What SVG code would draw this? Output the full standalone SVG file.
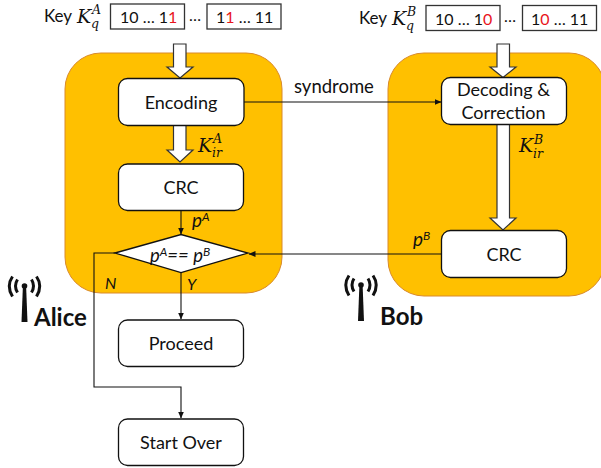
<svg xmlns="http://www.w3.org/2000/svg" width="601" height="468" viewBox="0 0 601 468">
<style>
text{font-family:Lato,"Open Sans","Liberation Sans",sans-serif;fill:#111}
.l{font-size:18px;text-anchor:middle}
.k{font-size:17px}
.n{font-size:16px}
.m{font-family:"DejaVu Serif","Liberation Serif",serif;font-style:italic}
.i{font-style:italic}
.r{fill:#e8141c}
.panel{fill:#ffc000;stroke:#d98a2b;stroke-width:1}
.box{fill:#fff;stroke:#111;stroke-width:1.3}
.key{fill:#fff;stroke:#333;stroke-width:1.3}
.fat{fill:#fff;stroke:#333;stroke-width:1.2}
.ln{fill:none;stroke:#111;stroke-width:1.1}
.b{font-size:24px;font-weight:700}
</style>
<defs>
<marker id="a" markerWidth="8" markerHeight="8" refX="6.500" refY="3" orient="auto" markerUnits="userSpaceOnUse"><path d="M0 0L7 3L0 6z" fill="#111"/></marker>
<g id="ant"><path d="M-1.600 0L-3 36H3L1.600 0z" fill="#111"/><circle cx="0" cy="0" r="2.800" fill="#111"/><path d="M-7 -6.500Q-11 0-7 6.500M7 -6.500Q11 0 7 6.500M-12 -9.500Q-18.500 0-12 10.500M12 -9.500Q18.500 0 12 10.500" fill="none" stroke="#111" stroke-width="3"/></g>
</defs>
<g id="alice-panel"><rect class="panel" x="65" y="53" width="217" height="240" rx="36"/></g>
<g id="bob-panel"><rect class="panel" x="388" y="53" width="217" height="243" rx="36"/></g>
<g id="connectors">
<path class="fat" d="M173.500 44H186V67H193L180 78L167 67H173.500z"/>
<path class="fat" d="M173.500 125H186V150H193L180 162L167 150H173.500z"/>
<path class="fat" d="M497 44H509.500V67H516L503 77.500L490 67H497z"/>
<path class="fat" d="M497 124H509.500V218H516L503 230L490 218H497z"/>
<path class="ln" d="M244 102H441" marker-end="url(#a)"/>
<path class="ln" d="M181 210V234" marker-end="url(#a)"/>
<path class="ln" d="M441 254H249" marker-end="url(#a)"/>
<path class="ln" d="M181 273V319" marker-end="url(#a)"/>
<path class="ln" d="M115 253H94V387H181V418" marker-end="url(#a)"/>
</g>
<g id="key-a">
<text class="k" x="44" y="22">Key</text>
<text class="m" x="77" y="23" font-size="19">K</text><text class="m" x="92" y="14" font-size="12.500">A</text><text class="m" x="91" y="28" font-size="12.500">q</text>
<rect class="key" x="110.500" y="4" width="74" height="25"/>
<text class="n" x="120" y="23">10 … 1<tspan class="r">1</tspan></text>
<text class="n" x="189" y="21">…</text>
<rect class="key" x="207" y="4" width="74" height="25"/>
<text class="n" x="216" y="23">1<tspan class="r">1</tspan> … 11</text>
</g>
<g id="key-b">
<text class="k" x="359" y="24">Key</text>
<text class="m" x="392" y="25" font-size="19">K</text><text class="m" x="407" y="16" font-size="12.500">B</text><text class="m" x="406" y="30" font-size="12.500">q</text>
<rect class="key" x="426" y="5.500" width="74" height="25"/>
<text class="n" x="435" y="24.500">10 … 1<tspan class="r">0</tspan></text>
<text class="n" x="504" y="22">…</text>
<rect class="key" x="522.500" y="5.500" width="74" height="25"/>
<text class="n" x="531" y="24.500">1<tspan class="r">0</tspan> … 11</text>
</g>
<g id="encoding"><rect class="box" x="118.500" y="78.500" width="125.500" height="47" rx="9"/><text class="l" x="181" y="109">Encoding</text></g>
<g id="decoding"><rect class="box" x="441.500" y="77.500" width="125" height="47" rx="9"/><text class="l" x="503.500" y="96">Decoding &amp;</text><text class="l" x="503.500" y="119">Correction</text></g>
<g id="crc-a"><rect class="box" x="118.500" y="164" width="125" height="46.500" rx="9"/><text class="l" x="181" y="194">CRC</text></g>
<g id="crc-b"><rect class="box" x="441.500" y="230.500" width="125" height="47" rx="9"/><text class="l" x="504" y="261">CRC</text></g>
<g id="compare"><path class="box" d="M115 253L181 234.500L248 253L181 272.500z"/>
<text x="150" y="262" font-size="18.500" class="i">p<tspan font-size="12" dy="-6.500">A</tspan><tspan dy="6.500">== p</tspan><tspan font-size="12" dy="-6.500">B</tspan></text></g>
<g id="proceed"><rect class="box" x="118.500" y="320" width="125" height="46.500" rx="9"/><text class="l" x="181" y="350">Proceed</text></g>
<g id="start-over"><rect class="box" x="118.500" y="419" width="125" height="46.500" rx="9"/><text class="l" x="181" y="449">Start Over</text></g>
<g id="labels">
<text x="294" y="93" font-size="18.500">syndrome</text>
<text class="m" x="198" y="152" font-size="19">K</text><text class="m" x="213" y="143" font-size="12.500">A</text><text class="m" x="212" y="157" font-size="12.500">ir</text>
<text class="m" x="519" y="152" font-size="19">K</text><text class="m" x="534" y="144" font-size="12.500">B</text><text class="m" x="533" y="158" font-size="12.500">ir</text>
<text x="192" y="227" font-size="19" class="i">p<tspan font-size="12" dy="-6.500">A</tspan></text>
<text x="413" y="246" font-size="19" class="i">p<tspan font-size="12" dy="-6.500">B</tspan></text>
<text x="105" y="289" font-size="16" class="i">N</text>
<text x="187" y="290" font-size="16" class="i">Y</text>
</g>
<g id="alice"><use href="#ant" x="24.500" y="286"/><text class="b" x="34" y="326">Alice</text></g>
<g id="bob"><use href="#ant" x="361" y="285"/><text class="b" x="380" y="325">Bob</text></g>
</svg>
